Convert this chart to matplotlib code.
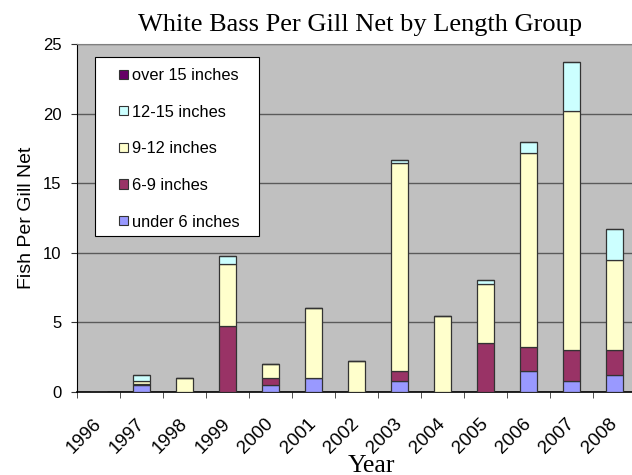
import matplotlib.pyplot as plt
import numpy as np
from matplotlib.ticker import FixedLocator, NullFormatter
from matplotlib.patches import Rectangle

years = ['1996', '1997', '1998', '1999', '2000', '2001', '2002', '2003', '2004', '2005', '2006', '2007', '2008']
under6 = [0, 0.48, 0, 0, 0.48, 1.0, 0, 0.77, 0, 0, 1.49, 0.77, 1.2]
in6_9 = [0, 0.12, 0, 4.72, 0.52, 0, 0, 0.72, 0, 3.5, 1.77, 2.23, 1.8]
in9_12 = [0, 0.17, 1.0, 4.5, 1.0, 5.0, 2.25, 14.99, 5.49, 4.29, 13.94, 17.2, 6.46]
in12_15 = [0, 0.48, 0, 0.53, 0, 0, 0, 0.22, 0, 0.28, 0.79, 3.54, 2.28]
over15 = [0] * 13

series = [
    ('under 6 inches', under6, '#9999FF'),
    ('6-9 inches', in6_9, '#993366'),
    ('9-12 inches', in9_12, '#FFFFCC'),
    ('12-15 inches', in12_15, '#CCFFFF'),
    ('over 15 inches', over15, '#660066'),
]

W, H = 632, 475
fig = plt.figure(figsize=(W / 100, H / 100), dpi=100)
ax = fig.add_axes([77 / W, (H - 392) / H, 559 / W, 348 / H])
ax.set_facecolor('#C0C0C0')

x = np.arange(len(years))
bottom = np.zeros(len(years))
handles = []
for name, vals, col in series:
    v = np.array(vals, dtype=float)
    b = ax.bar(x, v, 0.4, bottom=bottom, color=col, edgecolor='#333333',
               linewidth=0.9, label=name, zorder=3)
    handles.append(b)
    bottom += v

ax.set_xlim(-0.5, len(years) - 0.5)
ax.set_ylim(0, 25)
ax.set_yticks([0, 5, 10, 15, 20, 25])
ax.yaxis.grid(True, color='#5a5a5a', linewidth=1.0, zorder=0)
ax.set_axisbelow(True)

ax.set_xticks(x)
ax.set_xticklabels(years, rotation=45, ha='right', va='center', rotation_mode='anchor',
                   fontsize=13.5, family='Liberation Sans')
ax.tick_params(axis='x', which='major', length=0, pad=21)
ax.xaxis.set_minor_locator(FixedLocator(np.arange(-0.5, len(years), 1.0)))
ax.xaxis.set_minor_formatter(NullFormatter())
ax.tick_params(axis='x', which='minor', length=4, color='#333333')
ax.tick_params(axis='y', labelsize=12, length=4, color='#333333', pad=7)
for lab in ax.get_yticklabels():
    lab.set_family('Liberation Sans')

ax.spines['top'].set_color('#808080')
ax.spines['right'].set_color('#808080')
ax.spines['left'].set_color('black')
ax.spines['bottom'].set_color('black')
ax.spines['bottom'].set_linewidth(1.2)

fig.text(360 / W, 1 - 31 / H, 'White Bass Per Gill Net by Length Group',
         family='Liberation Serif', fontsize=19, ha='center', va='baseline')
ax.set_ylabel('Fish Per Gill Net', family='Liberation Sans', fontsize=14, labelpad=5.5)
fig.text(371.5 / W, 3.5 / H, 'Year', family='Liberation Serif', fontsize=18.5,
         ha='center', va='baseline')

# legend box
ax.add_patch(Rectangle((0.0322, 0.4483), 0.2934, 0.5143, transform=ax.transAxes,
                       facecolor='white', edgecolor='black', linewidth=0.8, zorder=4))
leg = ax.legend(handles[::-1], [s[0] for s in series][::-1], loc='upper left',
                bbox_to_anchor=(0.0757, 0.931), frameon=False,
                prop={'family': 'Liberation Sans', 'size': 11.8},
                handlelength=0.5, handleheight=0.5, handletextpad=0.3,
                labelspacing=1.32, borderpad=0, borderaxespad=0)
for p in leg.get_patches():
    p.set_edgecolor('#333333')
    p.set_linewidth(0.8)
leg.set_zorder(5)

fig.savefig('out.png', dpi=100)
